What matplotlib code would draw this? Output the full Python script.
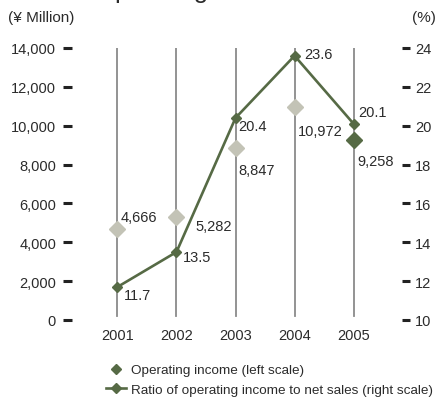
#!/usr/bin/env python3
# Operating income (left axis) and operating margin (right axis), 2001-2005

import matplotlib
matplotlib.use("Agg")
import matplotlib.pyplot as plt
from matplotlib.lines import Line2D

years = [2001, 2002, 2003, 2004, 2005]
operating_income = [4666, 5282, 8847, 10972, 9258]          # ¥ million
operating_ratio = [11.7, 13.5, 20.4, 23.6, 20.1]            # %
income_labels = ["4,666", "5,282", "8,847", "10,972", "9,258"]
ratio_labels = ["11.7", "13.5", "20.4", "23.6", "20.1"]

left_ticks = [0, 2000, 4000, 6000, 8000, 10000, 12000, 14000]
left_ticklabels = ["0", "2,000", "4,000", "6,000", "8,000", "10,000", "12,000", "14,000"]
right_ticks = [10, 12, 14, 16, 18, 20, 22, 24]

GREEN = "#566a45"
GRAY_MARK = "#c3c3b6"
TEXT = "#2b2b2b"
VLINE = "#8a8a8a"

plt.rcParams["font.family"] = ["Liberation Sans", "DejaVu Sans"]
plt.rcParams["text.color"] = TEXT

W, H = 441, 402
fig = plt.figure(figsize=(W / 100, H / 100), dpi=100)

ax = fig.add_axes([72 / W, 1 - 321 / H, (402 - 72) / W, (321 - 49) / H])
ax2 = ax.twinx()

for a in (ax, ax2):
    for s in a.spines.values():
        s.set_visible(False)
    a.patch.set_visible(False)

ax.set_xlim(2000.23, 2005.82)
ax.set_ylim(0, 14000)
ax2.set_ylim(10, 24)

# year gridlines
for yr in years:
    ax.axvline(yr, ymin=0.015, ymax=1.0, color=VLINE, lw=1.3, zorder=1)

# operating income diamonds; latest year highlighted
colors = [GRAY_MARK] * (len(years) - 1) + [GREEN]
for yr, v, c in zip(years, operating_income, colors):
    ax.plot(yr, v, marker="D", ms=8.6, color=c, mec=c, ls="none", zorder=3)

income_offsets = [(3, 12), (19, -9), (3, -22), (3, -24), (4, -21)]
for yr, v, lab, (dx, dy) in zip(years, operating_income, income_labels, income_offsets):
    ax.annotate(lab, (yr, v), xytext=(dx * 0.72, dy * 0.72), textcoords="offset points",
                fontsize=10.5, color=TEXT, ha="left", va="center")

# margin line
ax2.plot(years, operating_ratio, color=GREEN, lw=1.9, marker="D", ms=4.8,
         mfc=GREEN, mec=GREEN, zorder=4)

ratio_offsets = [(6, -8), (6, -5), (3, -8), (10, 2), (5, 12)]
for yr, v, lab, (dx, dy) in zip(years, operating_ratio, ratio_labels, ratio_offsets):
    ax2.annotate(lab, (yr, v), xytext=(dx * 0.72, dy * 0.72), textcoords="offset points",
                 fontsize=10.5, color=TEXT, ha="left", va="center")

# axis ticks: short heavy dashes
ax.set_xticks(years)
ax.set_xticklabels([str(y) for y in years], fontsize=10.5, color=TEXT)
ax.tick_params(axis="x", length=0, pad=6)
ax.set_yticks(left_ticks)
ax.set_yticklabels(left_ticklabels, fontsize=10.5, color=TEXT)
ax.tick_params(axis="y", length=6.5, width=2.2, color="#222222", pad=5)
ax2.set_yticks(right_ticks)
ax2.set_yticklabels([str(t) for t in right_ticks], fontsize=10.5, color=TEXT)
ax2.tick_params(axis="y", length=6, width=2.2, color="#222222", pad=3.5)

fig.text(8 / W, 1 - 18 / H, "(¥ Million)", fontsize=11, color=TEXT, va="center", ha="left")
fig.text(436 / W, 1 - 18 / H, "(%)", fontsize=11, color=TEXT, va="center", ha="right")
fig.text(95 / W, 1 + 2 / H, "Operating Income", fontsize=18.5, color=TEXT,
         va="baseline", ha="left")

handles = [
    Line2D([], [], ls="none", marker="D", ms=5.5, color=GREEN),
    Line2D([], [], color=GREEN, lw=1.9, marker="D", ms=5.5),
]
labels = ["Operating income (left scale)",
          "Ratio of operating income to net sales (right scale)"]
fig.legend(handles, labels, loc="upper left", bbox_to_anchor=(106 / W, 1 - 365 / H),
           frameon=False, fontsize=9.7, handlelength=1.45, handletextpad=0.4,
           labelspacing=0.5, borderpad=0, borderaxespad=0)

fig.savefig("out.png", dpi=100)
